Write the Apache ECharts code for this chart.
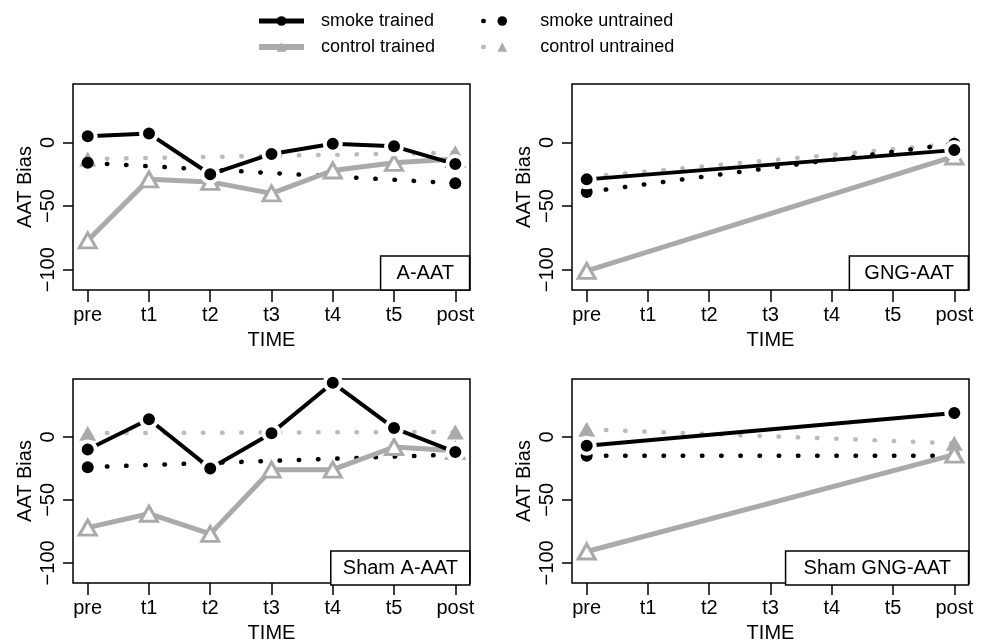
<!DOCTYPE html>
<html>
<head>
<meta charset="utf-8">
<script src="https://cdn.jsdelivr.net/npm/echarts@6/dist/echarts.min.js"></script>
<style>
  html, body { margin: 0; padding: 0; background: #ffffff; }
  #main { width: 987px; height: 644px; }
</style>
</head>
<body>
<div id="main"></div>
<script>
// categories on the x axis (measured at every session for trained groups, pre/post for untrained)
var categories = ['pre', 't1', 't2', 't3', 't4', 't5', 'post'];
var prePost = ['pre', 'post'];
var yTicks = [-100, -50, 0];
var panelTitles = ['A-AAT', 'GNG-AAT', 'Sham A-AAT', 'Sham GNG-AAT'];

// A-AAT
var aatSmokeTrained = [5, 7, -25, -9, -1, -3, -17];
var aatControlTrained = [-77, -29, -31, -40, -22, -16, -13];
var aatSmokeUntrained = [-16, -32];
var aatControlUntrained = [-13, -8];

// GNG-AAT
var gngSmokeTrained = [-29, -6];
var gngControlTrained = [-101, -11];
var gngSmokeUntrained = [-39, -1];
var gngControlUntrained = [-27, -1];

// Sham A-AAT
var shamAatSmokeTrained = [-10, 14, -25, 3, 43, 7, -12];
var shamAatControlTrained = [-72, -61, -77, -26, -26, -8, -11];
var shamAatSmokeUntrained = [-24, -14];
var shamAatControlUntrained = [3, 4];

// Sham GNG-AAT
var shamGngSmokeTrained = [-7, 19];
var shamGngControlTrained = [-91, -14];
var shamGngSmokeUntrained = [-15, -15];
var shamGngControlUntrained = [6, -5];

var GRAY = '#aaaaaa';
var LIGHT = '#bbbbbb';
var FONT = 'Liberation Sans';

// position on the x scale = index of the category + 1
function pts(values, cats) {
    return values.map(function (v, i) {
        return [categories.indexOf(cats[i]) + 1, v];
    });
}

var grids = [
    { left: 73, top: 84, width: 397, height: 206 },
    { left: 572, top: 84, width: 397, height: 206 },
    { left: 73, top: 379, width: 397, height: 206 },
    { left: 572, top: 379, width: 397, height: 206 }
];

var panels = [
    { st: aatSmokeTrained, ct: aatControlTrained, su: aatSmokeUntrained, cu: aatControlUntrained, trainedCats: categories },
    { st: gngSmokeTrained, ct: gngControlTrained, su: gngSmokeUntrained, cu: gngControlUntrained, trainedCats: prePost },
    { st: shamAatSmokeTrained, ct: shamAatControlTrained, su: shamAatSmokeUntrained, cu: shamAatControlUntrained, trainedCats: categories },
    { st: shamGngSmokeTrained, ct: shamGngControlTrained, su: shamGngSmokeUntrained, cu: shamGngControlUntrained, trainedCats: prePost }
];

// title box paddings (horizontal) so the boxes match the reference widths
var titlePads = [16, 15, 12, 18];

var xAxes = [], yAxes = [], series = [], titles = [];

grids.forEach(function (g, i) {
    xAxes.push({
        type: 'value', gridIndex: i, min: 0.76, max: 7.24,
        splitLine: { show: false },
        axisLine: { show: false, onZero: false },
        axisTick: { show: true, length: 12, customValues: [1, 2, 3, 4, 5, 6, 7], lineStyle: { color: '#000', width: 1.5 } },
        axisLabel: {
            customValues: [1, 2, 3, 4, 5, 6, 7],
            formatter: function (v) { return categories[v - 1]; },
            fontSize: 20, color: '#000', fontFamily: FONT, margin: 15
        },
        name: 'TIME', nameLocation: 'middle', nameGap: 40,
        nameTextStyle: { fontSize: 20, color: '#000', fontFamily: FONT }
    });
    yAxes.push({
        type: 'value', gridIndex: i, min: -116, max: 46,
        splitLine: { show: false },
        axisLine: { show: false, onZero: false },
        axisTick: { show: true, length: 10, customValues: yTicks, lineStyle: { color: '#000', width: 1.5 } },
        axisLabel: {
            customValues: yTicks, rotate: 90,
            formatter: function (v) { return String(v).replace('-', '\u2212'); },
            fontSize: 20, color: '#000', fontFamily: FONT, margin: 15
        },
        name: 'AAT Bias', nameLocation: 'middle', nameGap: 38,
        nameTextStyle: { fontSize: 20, color: '#000', fontFamily: FONT }
    });

    var p = panels[i];
    series.push({
        name: 'control untrained', type: 'line', xAxisIndex: i, yAxisIndex: i,
        data: pts(p.cu, prePost),
        symbol: 'triangle', symbolSize: [17, 15],
        itemStyle: { color: GRAY },
        lineStyle: { color: LIGHT, width: 4.5, type: [0.5, 18.7], cap: 'round' },
        z: 2
    });
    series.push({
        name: 'smoke untrained', type: 'line', xAxisIndex: i, yAxisIndex: i,
        data: pts(p.su, prePost),
        symbol: 'circle', symbolSize: 12,
        itemStyle: { color: '#000' },
        lineStyle: { color: '#000', width: 4.5, type: [0.5, 18.7], cap: 'round' },
        z: 3
    });
    series.push({
        name: 'control trained', type: 'line', xAxisIndex: i, yAxisIndex: i,
        data: pts(p.ct, p.trainedCats),
        symbol: 'triangle', symbolSize: [17, 15],
        itemStyle: { color: '#fff', borderColor: GRAY, borderWidth: 3 },
        lineStyle: { color: GRAY, width: 5 },
        z: 4
    });
    series.push({
        name: 'smoke trained', type: 'line', xAxisIndex: i, yAxisIndex: i,
        data: pts(p.st, p.trainedCats),
        symbol: 'circle', symbolSize: 16,
        itemStyle: { color: '#000', borderColor: '#fff', borderWidth: 4 },
        lineStyle: { color: '#000', width: 4 },
        z: 5
    });

    titles.push({
        text: panelTitles[i],
        right: 987 - (g.left + g.width),
        bottom: 644 - (g.top + g.height),
        padding: [6, titlePads[i]],
        borderColor: '#000', borderWidth: 1.5,
        backgroundColor: '#fff',
        textStyle: { fontSize: 20, fontWeight: 'normal', color: '#000', fontFamily: FONT, lineHeight: 22 }
    });
});

var legendBase = {
    orient: 'vertical', top: 7, itemHeight: 12, itemGap: 8,
    selectedMode: false,
    textStyle: { fontSize: 18, color: '#000', fontFamily: FONT }
};

var myChart = echarts.init(document.getElementById('main'));
myChart.setOption({
    animation: false,
    textStyle: { fontFamily: FONT },
    title: titles,
    legend: [
        Object.assign({}, legendBase, {
            left: 251, itemWidth: 45,
            textStyle: Object.assign({}, legendBase.textStyle, { padding: [0, 0, 0, 12] }),
            data: [
                { name: 'smoke trained', itemStyle: { color: '#000', borderWidth: 0 }, lineStyle: { width: 5 } },
                { name: 'control trained', itemStyle: { color: GRAY, borderWidth: 0 }, lineStyle: { width: 6 } }
            ]
        }),
        Object.assign({}, legendBase, {
            left: 476, itemWidth: 38,
            textStyle: Object.assign({}, legendBase.textStyle, { padding: [0, 0, 0, 14] }),
            data: [
                { name: 'smoke untrained', lineStyle: { width: 4.5, type: [0.5, 60] } },
                { name: 'control untrained', lineStyle: { width: 4.5, type: [0.5, 60] } }
            ]
        })
    ],
    grid: grids.map(function (g) {
        return Object.assign({ show: true, borderColor: '#000', borderWidth: 1.5, containLabel: false }, g);
    }),
    xAxis: xAxes,
    yAxis: yAxes,
    series: series
});
</script>
</body>
</html>
